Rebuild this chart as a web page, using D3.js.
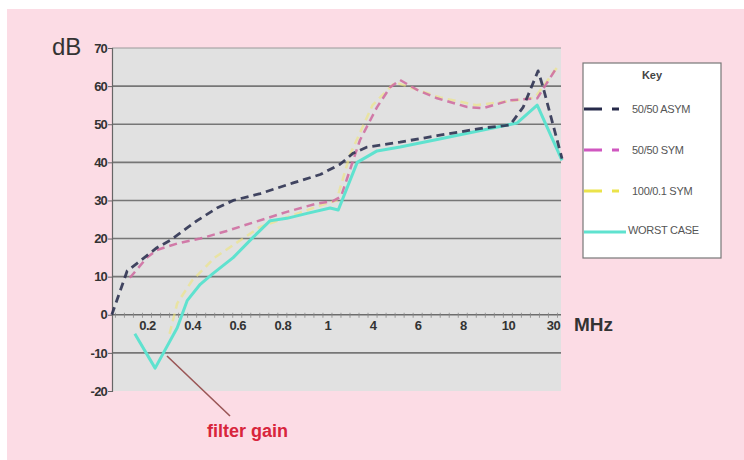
<!DOCTYPE html>
<html>
<head>
<meta charset="utf-8">
<script src="https://cdn.jsdelivr.net/npm/d3@7"></script>
<style>
  html, body { margin: 0; padding: 0; background: #fff; }
  svg { display: block; }
</style>
</head>
<body>
<div id="chart"></div>
<script>
// tick labels along the frequency axis (evenly spaced, position 1..10)
const freqLabels = ['0.2', '0.4', '0.6', '0.8', '1', '4', '6', '8', '10', '30'];
const dbTicks = [-20, -10, 0, 10, 20, 30, 40, 50, 60, 70];

// each point: [axis position, dB]
const asym = [[0.22, 0], [0.56, 11.5], [0.78, 13.5], [1.22, 17.6], [1.51, 19.5], [2.11, 24.7], [2.55, 28],
  [2.91, 30], [3.51, 31.8], [4.24, 34.6], [4.84, 36.8], [5.28, 39.5], [5.57, 42.4], [5.88, 44],
  [6.61, 45.3], [7.43, 47], [8.45, 49], [9.05, 49.8], [9.34, 54.5], [9.67, 64], [9.78, 59.7], [10.2, 41]];
const sym = [[0.62, 9.7], [1.0, 15], [1.22, 17], [1.67, 18.7], [2.18, 20], [2.77, 22], [3.35, 24.2],
  [4.1, 27], [4.77, 29.2], [5.12, 29.8], [5.3, 31], [5.72, 45.8], [6.1, 54.5], [6.39, 59.7], [6.61, 61.6],
  [6.99, 59], [7.43, 56.8], [8.1, 54.5], [8.45, 54.2], [9.05, 56.3], [9.65, 56.8], [10.09, 65]];
const sym100 = [[1.5, -5], [1.67, 3], [2.0, 9], [2.5, 15], [3.0, 19], [3.5, 23], [4.2, 26], [4.8, 28.5],
  [5.2, 30], [5.5, 42], [6.0, 55], [6.5, 61], [7.0, 59], [7.5, 57], [8.3, 55], [9.0, 56], [9.6, 57], [10.1, 65]];
const worst = [[0.73, -5], [1.18, -14], [1.67, -3.4], [1.89, 3.7], [2.18, 8], [2.46, 10.8], [2.91, 15],
  [3.35, 20.3], [3.73, 24.7], [4.1, 25.3], [4.55, 26.6], [5.06, 28], [5.24, 27.5], [5.66, 40], [6.1, 43],
  [6.61, 44], [7.43, 46], [8.45, 48.5], [9.2, 50.3], [9.65, 55], [10.2, 40.5]];

const seriesNames = ['50/50 ASYM', '50/50 SYM', '100/0.1 SYM', 'WORST CASE'];

const W = 744, H = 460;
const svg = d3.select('#chart').append('svg').attr('width', W).attr('height', H);

svg.append('rect').attr('x', 7).attr('y', 9).attr('width', W - 7).attr('height', H - 9).attr('fill', '#fcdce5');

const x = d3.scaleLinear().domain([1, 10]).range([147, 553]);
const y = d3.scaleLinear().domain([-20, 70]).range([391, 48]);
const x0 = 112, x1 = 561;

svg.append('rect')
  .attr('x', x0).attr('y', y(70))
  .attr('width', x1 - x0).attr('height', y(-20) - y(70))
  .attr('fill', '#e1e1e1');

// grid lines
svg.append('g').selectAll('line')
  .data(dbTicks.filter(d => d !== 0 && d !== -20))
  .join('line')
  .attr('x1', x0).attr('x2', x1)
  .attr('y1', d => y(d)).attr('y2', d => y(d))
  .attr('stroke', d => d === 70 ? '#9a9a9a' : '#767676')
  .attr('stroke-width', d => d === 70 ? 1 : 1.6);

// y axis
const yAxis = svg.append('g').attr('transform', `translate(${x0},0)`)
  .call(d3.axisLeft(y).tickValues(dbTicks).tickFormat(d => String(d)).tickSize(4).tickPadding(1));
yAxis.select('.domain').attr('stroke', '#666').attr('stroke-width', 1.2);
yAxis.selectAll('.tick line').attr('stroke', '#666');
yAxis.selectAll('text')
  .attr('font-family', 'Liberation Sans, Arial, sans-serif')
  .attr('font-weight', 'bold').attr('font-size', 13).attr('fill', '#333')
  .attr('letter-spacing', -0.8);

// x axis drawn at 0 dB
const xAxis = svg.append('g').attr('transform', `translate(0,${y(0)})`)
  .call(d3.axisBottom(x).tickValues(d3.range(1, 11)).tickFormat((d, i) => freqLabels[i]).tickSize(0).tickPadding(6));
xAxis.select('.domain').remove();
xAxis.append('line').attr('x1', x0).attr('x2', x1).attr('stroke', '#6c6c6c').attr('stroke-width', 1.6);
xAxis.selectAll('text')
  .attr('font-family', 'Liberation Sans, Arial, sans-serif')
  .attr('font-weight', 'bold').attr('font-size', 13).attr('fill', '#333')
  .attr('letter-spacing', -0.5);
// minor tick marks along the zero line
xAxis.append('g').selectAll('line')
  .data(d3.range(0.3, 10.2, 0.2))
  .join('line')
  .attr('x1', d => x(d)).attr('x2', d => x(d))
  .attr('y1', -2).attr('y2', 3)
  .attr('stroke', '#888').attr('stroke-width', 0.8);

svg.append('text').attr('x', 574).attr('y', 331)
  .attr('font-family', 'Liberation Sans, Arial, sans-serif').attr('font-weight', 'bold')
  .attr('font-size', 19).attr('fill', '#333').text('MHz');

svg.append('text').attr('x', 52).attr('y', 55)
  .attr('font-family', 'Liberation Sans, Arial, sans-serif')
  .attr('font-size', 24).attr('fill', '#333').text('dB');

// series
const line = d3.line().x(d => x(d[0])).y(d => y(d[1]));
const styles = [
  { data: sym100, color: '#efe57a', width: 2.5, dash: '8,5', opacity: 0.6 },
  { data: sym, color: '#cf6fa2', width: 2.5, dash: '8,5', opacity: 0.9 },
  { data: worst, color: '#5fe2cf', width: 3, dash: null, opacity: 1 },
  { data: asym, color: '#2f3352', width: 2.8, dash: '8,5', opacity: 0.9 }
];
styles.forEach(s => {
  svg.append('path').datum(s.data)
    .attr('d', line)
    .attr('fill', 'none')
    .attr('stroke', s.color)
    .attr('stroke-width', s.width)
    .attr('stroke-dasharray', s.dash)
    .attr('stroke-opacity', s.opacity)
    .attr('stroke-linejoin', 'round');
});

// annotation
svg.append('line').attr('x1', 167).attr('y1', 356).attr('x2', 230).attr('y2', 416)
  .attr('stroke', '#9a5656').attr('stroke-width', 1.6);
svg.append('text').attr('x', 207).attr('y', 437)
  .attr('font-family', 'Liberation Sans, Arial, sans-serif').attr('font-weight', 'bold')
  .attr('font-size', 18).attr('fill', '#d8253c').text('filter gain');

// legend
const lg = svg.append('g').attr('transform', 'translate(583,63)');
lg.append('rect').attr('width', 138).attr('height', 195).attr('fill', '#fff')
  .attr('stroke', '#777').attr('stroke-width', 1.2);
lg.append('text').attr('x', 69).attr('y', 16).attr('text-anchor', 'middle')
  .attr('font-family', 'Liberation Sans, Arial, sans-serif').attr('font-weight', 'bold')
  .attr('font-size', 11).attr('fill', '#444').text('Key');
const legendStyle = [
  { color: '#262a4a', dash: '18,10', width: 3 },
  { color: '#d057c0', dash: '18,10', width: 3 },
  { color: '#ebe34a', dash: '18,10', width: 3 },
  { color: '#5fe2cf', dash: null, width: 3 }
];
const rows = lg.selectAll('g.row').data(seriesNames).join('g')
  .attr('class', 'row')
  .attr('transform', (d, i) => `translate(0,${46 + i * 41})`);
rows.append('line').attr('x1', 1).attr('x2', (d, i) => i === 3 ? 43 : 36)
  .attr('stroke', (d, i) => legendStyle[i].color)
  .attr('stroke-width', (d, i) => legendStyle[i].width)
  .attr('stroke-dasharray', (d, i) => legendStyle[i].dash);
rows.append('text').attr('x', (d, i) => i === 3 ? 45 : 49).attr('y', (d, i) => i === 3 ? -2 : 0)
  .attr('dy', '0.35em')
  .attr('font-family', 'Liberation Sans, Arial, sans-serif')
  .attr('font-size', 11).attr('fill', '#555').attr('letter-spacing', -0.3).text(d => d);
</script>
</body>
</html>
